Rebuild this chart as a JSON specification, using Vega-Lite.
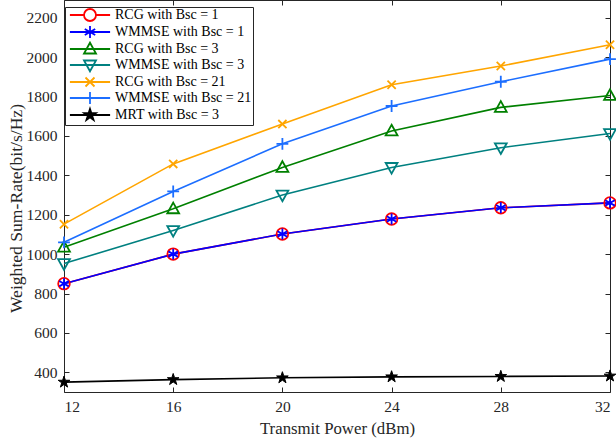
{
  "$schema": "https://vega.github.io/schema/vega-lite/v6.json",
  "width": 546,
  "height": 392,
  "autosize": {"type": "none"},
  "padding": {"left": 64, "top": 0, "right": 6, "bottom": 53},
  "background": "white",
  "config": {
    "view": {"stroke": null},
    "font": "Liberation Serif",
    "axis": {
      "grid": false,
      "domainColor": "#262626",
      "domainWidth": 1,
      "tickColor": "#262626",
      "tickSize": -5,
      "tickWidth": 1,
      "labelFont": "Liberation Serif",
      "labelFontSize": 15.5,
      "labelColor": "#262626",
      "titleFont": "Liberation Serif",
      "titleFontSize": 16.8,
      "titleFontWeight": "normal",
      "titleColor": "#262626",
      "format": "d"
    },
    "legend": {
      "orient": "none",
      "legendX": 1,
      "legendY": 7,
      "fillColor": "white",
      "strokeColor": "#262626",
      "padding": 1,
      "labelFont": "Liberation Serif",
      "labelFontSize": 14,
      "labelColor": "#000000",
      "symbolSize": 144,
      "symbolStrokeWidth": 1.8,
      "symbolOffset": 17,
      "labelOffset": 18,
      "rowPadding": -3,
      "title": null
    }
  },
  "datasets": {
    "rates": [
      {"p": 12, "v": 850, "s": "RCG with Bsc = 1"},
      {"p": 16, "v": 1000, "s": "RCG with Bsc = 1"},
      {"p": 20, "v": 1102, "s": "RCG with Bsc = 1"},
      {"p": 24, "v": 1178, "s": "RCG with Bsc = 1"},
      {"p": 28, "v": 1235, "s": "RCG with Bsc = 1"},
      {"p": 32, "v": 1260, "s": "RCG with Bsc = 1"},
      {"p": 12, "v": 850, "s": "WMMSE with Bsc = 1"},
      {"p": 16, "v": 1000, "s": "WMMSE with Bsc = 1"},
      {"p": 20, "v": 1102, "s": "WMMSE with Bsc = 1"},
      {"p": 24, "v": 1178, "s": "WMMSE with Bsc = 1"},
      {"p": 28, "v": 1235, "s": "WMMSE with Bsc = 1"},
      {"p": 32, "v": 1260, "s": "WMMSE with Bsc = 1"},
      {"p": 12, "v": 1035, "s": "RCG with Bsc = 3"},
      {"p": 16, "v": 1230, "s": "RCG with Bsc = 3"},
      {"p": 20, "v": 1440, "s": "RCG with Bsc = 3"},
      {"p": 24, "v": 1625, "s": "RCG with Bsc = 3"},
      {"p": 28, "v": 1745, "s": "RCG with Bsc = 3"},
      {"p": 32, "v": 1805, "s": "RCG with Bsc = 3"},
      {"p": 12, "v": 952, "s": "WMMSE with Bsc = 3"},
      {"p": 16, "v": 1120, "s": "WMMSE with Bsc = 3"},
      {"p": 20, "v": 1300, "s": "WMMSE with Bsc = 3"},
      {"p": 24, "v": 1440, "s": "WMMSE with Bsc = 3"},
      {"p": 28, "v": 1540, "s": "WMMSE with Bsc = 3"},
      {"p": 32, "v": 1612, "s": "WMMSE with Bsc = 3"},
      {"p": 12, "v": 1152, "s": "RCG with Bsc = 21"},
      {"p": 16, "v": 1458, "s": "RCG with Bsc = 21"},
      {"p": 20, "v": 1660, "s": "RCG with Bsc = 21"},
      {"p": 24, "v": 1860, "s": "RCG with Bsc = 21"},
      {"p": 28, "v": 1955, "s": "RCG with Bsc = 21"},
      {"p": 32, "v": 2063, "s": "RCG with Bsc = 21"},
      {"p": 12, "v": 1060, "s": "WMMSE with Bsc = 21"},
      {"p": 16, "v": 1318, "s": "WMMSE with Bsc = 21"},
      {"p": 20, "v": 1560, "s": "WMMSE with Bsc = 21"},
      {"p": 24, "v": 1752, "s": "WMMSE with Bsc = 21"},
      {"p": 28, "v": 1875, "s": "WMMSE with Bsc = 21"},
      {"p": 32, "v": 1990, "s": "WMMSE with Bsc = 21"},
      {"p": 12, "v": 350, "s": "MRT with Bsc = 3"},
      {"p": 16, "v": 363, "s": "MRT with Bsc = 3"},
      {"p": 20, "v": 372, "s": "MRT with Bsc = 3"},
      {"p": 24, "v": 377, "s": "MRT with Bsc = 3"},
      {"p": 28, "v": 379, "s": "MRT with Bsc = 3"},
      {"p": 32, "v": 381, "s": "MRT with Bsc = 3"}
    ]
  },
  "data": {"name": "rates"},
  "encoding": {
    "x": {"field": "p", "type": "quantitative", "axis": null},
    "y": {"field": "v", "type": "quantitative", "axis": null},
    "color": {"field": "s", "type": "nominal"}
  },
  "layer": [
    {
      "mark": {"type": "line", "strokeWidth": 1.6},
      "encoding": {
        "x": {"field": "p", "type": "quantitative", "scale": {"domain": [12, 32], "nice": false, "zero": false},
              "axis": {"values": [12, 16, 20, 24, 28, 32], "title": "Transmit Power (dBm)", "labelPadding": 12, "titlePadding": 6}},
        "y": {"field": "v", "type": "quantitative", "scale": {"domain": [300, 2290], "nice": false, "zero": false},
              "axis": {"values": [400, 600, 800, 1000, 1200, 1400, 1600, 1800, 2000, 2200], "title": "Weighted Sum-Rate(bit/s/Hz)", "labelPadding": 12, "titlePadding": 1, "titleFontSize": 17.6, "titleY": 208}},
        "color": {"field": "s", "type": "nominal",
                  "legend": {"encode": {"symbols": {"update": {"fill": {"signal": "datum.value === 'MRT with Bsc = 3' ? '#000000' : 'transparent'"}}}}},
                  "scale": {"domain": ["RCG with Bsc = 1", "WMMSE with Bsc = 1", "RCG with Bsc = 3", "WMMSE with Bsc = 3", "RCG with Bsc = 21", "WMMSE with Bsc = 21", "MRT with Bsc = 3"],
                            "range": ["#FF0000", "#0000FF", "#008000", "#008080", "#FFA500", "#1C6EFF", "#000000"]}},
        "order": {"field": "p"}
      }
    },
    {
      "transform": [{"filter": "datum.s === 'RCG with Bsc = 1'"}],
      "mark": {"type": "point", "filled": false, "strokeWidth": 1.8, "size": 135, "opacity": 1,
               "shape": "M1,0A1,1,0,1,1,-1,0A1,1,0,1,1,1,0Z"}
    },
    {
      "transform": [{"filter": "datum.s === 'WMMSE with Bsc = 1'"}],
      "mark": {"type": "point", "filled": false, "strokeWidth": 1.8, "size": 120, "opacity": 1,
               "shape": "M0,-1L0,1M-0.87,-0.5L0.87,0.5M-0.87,0.5L0.87,-0.5"}
    },
    {
      "transform": [{"filter": "datum.s === 'RCG with Bsc = 3'"}],
      "mark": {"type": "point", "filled": false, "strokeWidth": 1.8, "size": 140, "opacity": 1,
               "shape": "M0,-1.05L1,0.75L-1,0.75Z"}
    },
    {
      "transform": [{"filter": "datum.s === 'WMMSE with Bsc = 3'"}],
      "mark": {"type": "point", "filled": false, "strokeWidth": 1.8, "size": 140, "opacity": 1,
               "shape": "M0,1.05L1,-0.75L-1,-0.75Z"}
    },
    {
      "transform": [{"filter": "datum.s === 'RCG with Bsc = 21'"}],
      "mark": {"type": "point", "filled": false, "strokeWidth": 1.8, "size": 120, "opacity": 1,
               "shape": "M-0.75,-0.75L0.75,0.75M-0.75,0.75L0.75,-0.75"}
    },
    {
      "transform": [{"filter": "datum.s === 'WMMSE with Bsc = 21'"}],
      "mark": {"type": "point", "filled": false, "strokeWidth": 1.8, "size": 140, "opacity": 1,
               "shape": "M-1,0L1,0M0,-1L0,1"}
    },
    {
      "transform": [{"filter": "datum.s === 'MRT with Bsc = 3'"}],
      "mark": {"type": "point", "filled": false, "fill": "#000000", "strokeWidth": 1, "size": 150, "opacity": 1,
               "shape": "M0,-1L0.2245,-0.309L0.951,-0.309L0.363,0.118L0.588,0.809L0,0.382L-0.588,0.809L-0.363,0.118L-0.951,-0.309L-0.2245,-0.309Z"}
    },
    {
      "transform": [{"filter": "datum.v < 0"}],
      "mark": {"type": "point", "filled": false, "strokeWidth": 1.8},
      "encoding": {
        "color": {"field": "s", "type": "nominal"},
        "shape": {"field": "s", "type": "nominal",
                  "scale": {"domain": ["RCG with Bsc = 1", "WMMSE with Bsc = 1", "RCG with Bsc = 3", "WMMSE with Bsc = 3", "RCG with Bsc = 21", "WMMSE with Bsc = 21", "MRT with Bsc = 3"],
                            "range": [
                              "M-3.35,0L-1,0M1,0L3.35,0M1,0A1,1,0,1,1,-1,0A1,1,0,1,1,1,0Z",
                              "M-3.35,0L3.35,0M0,-1L0,1M-0.87,-0.5L0.87,0.5M-0.87,0.5L0.87,-0.5",
                              "M-3.35,0L3.35,0M0,-1.05L1,0.75L-1,0.75Z",
                              "M-3.35,0L3.35,0M0,1.05L1,-0.75L-1,-0.75Z",
                              "M-3.35,0L3.35,0M-0.75,-0.75L0.75,0.75M-0.75,0.75L0.75,-0.75",
                              "M-3.35,0L3.35,0M-1,0L1,0M0,-1L0,1",
                              "M-3.35,0L3.35,0M0,-1L0.2245,-0.309L0.951,-0.309L0.363,0.118L0.588,0.809L0,0.382L-0.588,0.809L-0.363,0.118L-0.951,-0.309L-0.2245,-0.309Z"
                            ]}}
      }
    },
    {
      "transform": [{"filter": "datum.v < 0"}],
      "mark": {"type": "point", "opacity": 0},
      "encoding": {
        "x": {"field": "p", "type": "quantitative",
              "axis": {"orient": "top", "values": [12, 16, 20, 24, 28, 32], "labels": false, "title": null}},
        "y": {"field": "v", "type": "quantitative",
              "axis": {"orient": "right", "values": [400, 600, 800, 1000, 1200, 1400, 1600, 1800, 2000, 2200], "labels": false, "title": null}}
      }
    }
  ],
  "resolve": {"axis": {"x": "independent", "y": "independent"}}
}
